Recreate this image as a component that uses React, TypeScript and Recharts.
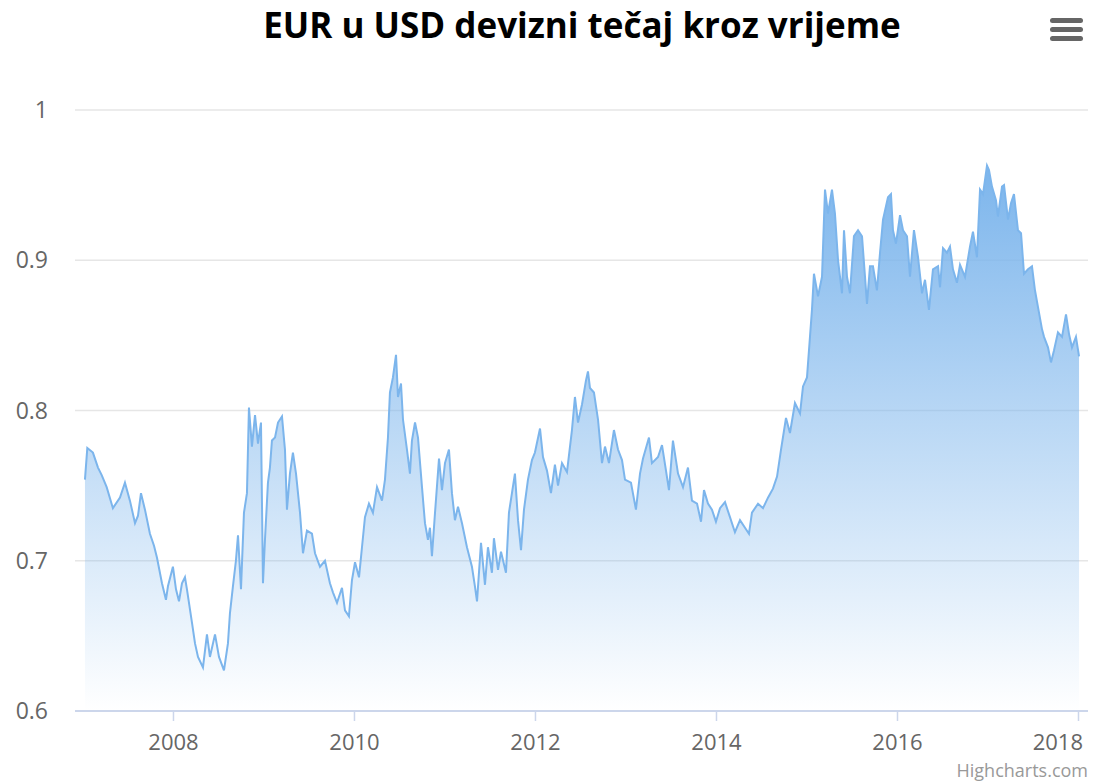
import { AreaChart, Area, XAxis, YAxis, CartesianGrid } from "recharts"

// [decimal year, USD -> EUR rate]
const seg2007: [number, number][] = [
  [2007.022, 0.754], [2007.048, 0.775], [2007.11, 0.772], [2007.166, 0.762], [2007.207, 0.757],
  [2007.262, 0.749], [2007.331, 0.735], [2007.409, 0.742], [2007.464, 0.752], [2007.519, 0.74],
  [2007.575, 0.725], [2007.608, 0.73], [2007.641, 0.745], [2007.685, 0.734], [2007.74, 0.718],
  [2007.785, 0.71], [2007.818, 0.702], [2007.873, 0.685], [2007.917, 0.674], [2007.939, 0.683],
  [2007.994, 0.696], [2008.028, 0.681], [2008.061, 0.673], [2008.094, 0.685], [2008.127, 0.689],
  [2008.149, 0.681], [2008.204, 0.659], [2008.238, 0.645], [2008.271, 0.636], [2008.326, 0.629],
  [2008.37, 0.651], [2008.403, 0.636], [2008.459, 0.651], [2008.503, 0.636], [2008.558, 0.627],
  [2008.602, 0.645],
]

const seg2009: [number, number][] = [
  [2008.624, 0.665], [2008.657, 0.683], [2008.69, 0.7], [2008.713, 0.717], [2008.746, 0.681],
  [2008.779, 0.732], [2008.812, 0.745], [2008.834, 0.802], [2008.867, 0.776], [2008.901, 0.797],
  [2008.934, 0.778], [2008.967, 0.792], [2008.989, 0.685], [2009.011, 0.714], [2009.044, 0.752],
  [2009.066, 0.762], [2009.088, 0.78], [2009.122, 0.782], [2009.155, 0.792], [2009.199, 0.796],
  [2009.232, 0.774], [2009.254, 0.734], [2009.287, 0.758], [2009.32, 0.772], [2009.354, 0.758],
  [2009.398, 0.732], [2009.431, 0.705], [2009.475, 0.72], [2009.53, 0.718], [2009.564, 0.705],
  [2009.619, 0.696], [2009.674, 0.7], [2009.729, 0.685], [2009.762, 0.679], [2009.807, 0.672],
  [2009.862, 0.682], [2009.895, 0.667], [2009.939, 0.663], [2009.972, 0.687], [2010.006, 0.699],
  [2010.05, 0.689], [2010.083, 0.709], [2010.116, 0.729], [2010.16, 0.738], [2010.204, 0.732],
  [2010.249, 0.749],
]

const seg2011: [number, number][] = [
  [2010.304, 0.74], [2010.337, 0.754], [2010.37, 0.782], [2010.392, 0.812], [2010.425, 0.822],
  [2010.459, 0.837], [2010.481, 0.809], [2010.514, 0.818], [2010.536, 0.794], [2010.58, 0.774],
  [2010.613, 0.758], [2010.635, 0.78], [2010.669, 0.792], [2010.702, 0.782], [2010.746, 0.749],
  [2010.779, 0.725], [2010.812, 0.714], [2010.834, 0.722], [2010.856, 0.703], [2010.89, 0.732],
  [2010.934, 0.768], [2010.967, 0.747], [2011.0, 0.765], [2011.044, 0.774], [2011.077, 0.745],
  [2011.11, 0.727], [2011.144, 0.736], [2011.188, 0.725], [2011.243, 0.709], [2011.298, 0.696],
  [2011.331, 0.683], [2011.354, 0.673], [2011.398, 0.712], [2011.442, 0.684], [2011.475, 0.709],
  [2011.519, 0.692], [2011.541, 0.715], [2011.586, 0.694], [2011.619, 0.706], [2011.674, 0.692],
  [2011.707, 0.732], [2011.74, 0.745], [2011.773, 0.758], [2011.807, 0.727], [2011.84, 0.707],
  [2011.873, 0.734],
]

const seg2013: [number, number][] = [
  [2011.917, 0.754], [2011.961, 0.767], [2011.994, 0.772], [2012.05, 0.788], [2012.083, 0.769],
  [2012.127, 0.76], [2012.171, 0.745], [2012.215, 0.764], [2012.249, 0.75], [2012.293, 0.765],
  [2012.348, 0.759], [2012.403, 0.787], [2012.436, 0.809], [2012.47, 0.792], [2012.514, 0.804],
  [2012.558, 0.82], [2012.58, 0.826], [2012.602, 0.815], [2012.646, 0.812], [2012.691, 0.794],
  [2012.735, 0.765], [2012.768, 0.776], [2012.812, 0.765], [2012.867, 0.787], [2012.912, 0.774],
  [2012.956, 0.767], [2012.989, 0.754], [2013.055, 0.752], [2013.11, 0.734], [2013.155, 0.758],
  [2013.188, 0.768], [2013.254, 0.782], [2013.287, 0.765], [2013.354, 0.769], [2013.398, 0.777],
  [2013.442, 0.76], [2013.475, 0.747], [2013.519, 0.78],
]

const seg2014: [number, number][] = [
  [2013.575, 0.758], [2013.63, 0.749], [2013.685, 0.762], [2013.729, 0.74], [2013.785, 0.738],
  [2013.829, 0.726], [2013.862, 0.747], [2013.906, 0.738], [2013.95, 0.734], [2013.994, 0.726],
  [2014.039, 0.735], [2014.094, 0.739], [2014.149, 0.729], [2014.204, 0.719], [2014.26, 0.727],
  [2014.315, 0.722], [2014.359, 0.718], [2014.392, 0.732], [2014.459, 0.738], [2014.514, 0.735],
  [2014.569, 0.742], [2014.624, 0.748], [2014.669, 0.756], [2014.713, 0.774], [2014.768, 0.795],
  [2014.812, 0.785], [2014.867, 0.805], [2014.923, 0.798], [2014.956, 0.816], [2015.0, 0.822],
  [2015.033, 0.849], [2015.055, 0.867], [2015.077, 0.891], [2015.122, 0.876], [2015.166, 0.889],
]

const seg2016: [number, number][] = [
  [2015.199, 0.947], [2015.232, 0.931], [2015.276, 0.947], [2015.309, 0.931], [2015.343, 0.9],
  [2015.387, 0.878], [2015.409, 0.92], [2015.442, 0.889], [2015.475, 0.878], [2015.519, 0.916],
  [2015.564, 0.92], [2015.608, 0.916], [2015.663, 0.871], [2015.696, 0.896], [2015.729, 0.896],
  [2015.773, 0.88], [2015.807, 0.905], [2015.84, 0.927], [2015.895, 0.942], [2015.928, 0.944],
  [2015.95, 0.92], [2015.983, 0.911], [2016.028, 0.93], [2016.061, 0.92], [2016.105, 0.916],
  [2016.138, 0.889], [2016.182, 0.92], [2016.227, 0.902], [2016.271, 0.878], [2016.304, 0.887],
  [2016.348, 0.867], [2016.392, 0.894], [2016.448, 0.896], [2016.47, 0.882], [2016.503, 0.908],
  [2016.547, 0.905], [2016.58, 0.909], [2016.613, 0.894], [2016.657, 0.885], [2016.691, 0.897],
]

const seg2017: [number, number][] = [
  [2016.746, 0.889], [2016.801, 0.909], [2016.834, 0.919], [2016.878, 0.902], [2016.912, 0.947],
  [2016.945, 0.944], [2016.989, 0.963], [2017.011, 0.96], [2017.044, 0.949], [2017.088, 0.94],
  [2017.11, 0.929], [2017.155, 0.949], [2017.177, 0.95], [2017.221, 0.927], [2017.254, 0.938],
  [2017.287, 0.944], [2017.331, 0.92], [2017.365, 0.918], [2017.398, 0.891], [2017.442, 0.894],
  [2017.486, 0.896], [2017.519, 0.88], [2017.552, 0.869], [2017.597, 0.854], [2017.619, 0.849],
  [2017.663, 0.842], [2017.696, 0.832], [2017.729, 0.84], [2017.773, 0.852], [2017.818, 0.849],
  [2017.862, 0.864], [2017.895, 0.851], [2017.928, 0.842], [2017.972, 0.849], [2018.006, 0.836],
]

const xTicks = [2008, 2010, 2012, 2014, 2016, 2018]
const yTicks = [0.6, 0.7, 0.8, 0.9, 1]

const data = [...seg2007, ...seg2009, ...seg2011, ...seg2013, ...seg2014, ...seg2016, ...seg2017].map(
  ([t, rate]) => ({ t, rate })
)

const FONT = '"Open Sans", "Noto Sans", sans-serif'

// highcharts pushes the last label inside the chart edge
const XTick = ({ x, y, payload }: { x?: number; y?: number; payload?: { value: number } }) => {
  const tooFar = (x ?? 0) > 1060
  return (
    <text
      x={tooFar ? 1083 : x}
      y={y}
      dy="0.71em"
      textAnchor={tooFar ? "end" : "middle"}
      fill="#666666"
      fontSize={22}
      fontFamily={FONT}
    >
      {payload?.value}
    </text>
  )
}

export default function App() {
  return (
    <div style={{ position: "absolute", left: 0, top: 0, width: 1094, height: 781, background: "#fff" }}>
      <AreaChart
        width={1094}
        height={781}
        data={data}
        margin={{ top: 110, right: 6, bottom: 40, left: 0 }}
      >
        <defs>
          <linearGradient id="fillRate" x1="0" y1="0" x2="0" y2="1">
            <stop offset="0%" stopColor="#7cb5ec" stopOpacity={1} />
            <stop offset="100%" stopColor="#7cb5ec" stopOpacity={0} />
          </linearGradient>
        </defs>
        <CartesianGrid vertical={false} stroke="#e6e6e6" strokeWidth={1.5} />
        <XAxis
          dataKey="t"
          type="number"
          domain={[2006.912, 2018.105]}
          ticks={xTicks}
          height={30}
          tickSize={10}
          tickMargin={13}
          stroke="#ccd6eb"
          axisLine={{ stroke: "#ccd6eb", strokeWidth: 2 }}
          tickLine={{ stroke: "#ccd6eb", strokeWidth: 1.5 }}
          tick={<XTick />}
          interval={0}
        />
        <YAxis
          type="number"
          domain={[0.6, 1]}
          ticks={yTicks}
          width={75}
          axisLine={false}
          tickLine={false}
          tickMargin={21}
          tickFormatter={(v: number) => String(v)}
          tick={{ fill: "#666666", fontSize: 23, fontFamily: FONT }}
          interval={0}
        />
        <Area
          type="linear"
          dataKey="rate"
          stroke="#7cb5ec"
          strokeWidth={2}
          fill="url(#fillRate)"
          fillOpacity={1}
          dot={false}
          activeDot={false}
          isAnimationActive={false}
        />
      </AreaChart>

      <svg
        width={1094}
        height={781}
        style={{ position: "absolute", left: 0, top: 0, pointerEvents: "none" }}
      >
        <text
          x={582}
          y={38}
          textAnchor="middle"
          fontFamily={FONT}
          fontWeight={700}
          fontSize={35}
          fill="#000"
        >
          EUR u USD devizni tečaj kroz vrijeme
        </text>
        <g fill="#666666">
          <rect x={1050} y={18} width={33} height={5} rx={2.5} />
          <rect x={1050} y={27} width={33} height={5} rx={2.5} />
          <rect x={1050} y={36} width={33} height={5} rx={2.5} />
        </g>
        <text x={1088} y={777} textAnchor="end" fontFamily={FONT} fontSize={18} fill="#999999">
          Highcharts.com
        </text>
      </svg>
    </div>
  )
}
